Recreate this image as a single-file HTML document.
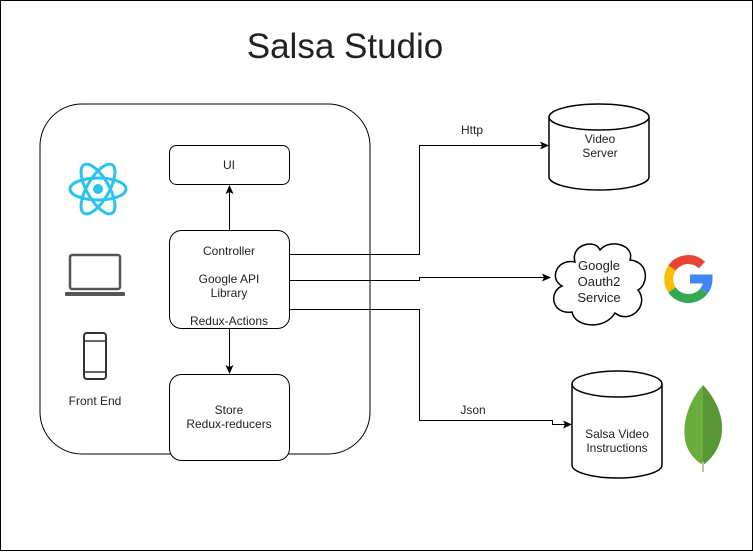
<!DOCTYPE html>
<html><head><style>
body{margin:0;background:#fff}
svg text{font-family:"Liberation Sans",Arial,sans-serif;fill:#222}
</style></head><body>
<svg width="753" height="551" viewBox="0 0 753 551" xmlns="http://www.w3.org/2000/svg">
<defs><marker id="a" markerWidth="10" markerHeight="10" refX="8" refY="4" orient="auto" markerUnits="userSpaceOnUse"><path d="M0,0 L9,4 L0,8 L2,4 Z" fill="#000"/></marker></defs>
<rect x="0.5" y="0.5" width="752" height="550" fill="#fff" stroke="#000"/>
<text x="345" y="58" font-size="35" text-anchor="middle" fill="#000">Salsa Studio</text>
<rect x="40" y="104" width="330" height="350" rx="42" fill="none" stroke="#000"/>
<g transform="translate(98,189)" stroke="#29c3ec" stroke-width="3" fill="none">
<ellipse rx="28" ry="11"/><ellipse rx="28" ry="11" transform="rotate(60)"/><ellipse rx="28" ry="11" transform="rotate(-60)"/>
<circle r="5" fill="#29c3ec" stroke="none"/></g>
<rect x="70" y="255" width="50" height="34" rx="2" fill="none" stroke="#555" stroke-width="2.5"/>
<rect x="65" y="292" width="60" height="4" rx="1" fill="#555"/>
<rect x="84" y="333" width="22" height="46" rx="3" fill="none" stroke="#333" stroke-width="2"/>
<line x1="85" y1="341" x2="105" y2="341" stroke="#333" stroke-width="1.5"/><line x1="85" y1="372" x2="105" y2="372" stroke="#333" stroke-width="1.5"/>
<text x="95" y="405" font-size="12" text-anchor="middle">Front End</text>
<rect x="169.5" y="145.5" width="120" height="39" rx="7" fill="#fff" stroke="#000"/>
<text x="229" y="169" font-size="12" text-anchor="middle">UI</text>
<rect x="169.5" y="230.5" width="120" height="98" rx="12" fill="#fff" stroke="#000"/>
<text x="229" y="255" font-size="12" text-anchor="middle">Controller</text>
<text x="229" y="283" font-size="12" text-anchor="middle">Google API</text>
<text x="229" y="297" font-size="12" text-anchor="middle">Library</text>
<text x="229" y="325" font-size="12" text-anchor="middle">Redux-Actions</text>
<rect x="169.5" y="374.5" width="120" height="86" rx="12" fill="#fff" stroke="#000"/>
<text x="229" y="414" font-size="12" text-anchor="middle">Store</text>
<text x="229" y="428" font-size="12" text-anchor="middle">Redux-reducers</text>
<line x1="229.5" y1="230" x2="229.5" y2="186" stroke="#000" marker-end="url(#a)"/>
<line x1="229.5" y1="329" x2="229.5" y2="373" stroke="#000" marker-end="url(#a)"/>
<polyline points="290,254.5 419.5,254.5 419.5,145.5 548,145.5" fill="none" stroke="#000" marker-end="url(#a)"/>
<polyline points="290,280.5 419.5,280.5 419.5,277.5 550,277.5" fill="none" stroke="#000" marker-end="url(#a)"/>
<polyline points="290,309.5 419.5,309.5 419.5,420.5 552.5,420.5 552.5,424.5 571,424.5" fill="none" stroke="#000" marker-end="url(#a)"/>
<text x="472" y="134" font-size="12" text-anchor="middle">Http</text>
<text x="473" y="414" font-size="12" text-anchor="middle">Json</text>
<g fill="#fff" stroke="#000" stroke-width="1.5">
<path d="M549,117 L549,177 A50,13 0 0 0 649,177 L649,117"/>
<ellipse cx="599" cy="117" rx="50" ry="13"/>
</g>
<text x="600" y="143" font-size="12" text-anchor="middle">Video</text>
<text x="600" y="157" font-size="12" text-anchor="middle">Server</text>
<path d="M575,262 C570,245 595,238 600,250 C610,238 635,245 630,260 C650,262 648,285 638,290 C650,305 630,325 615,313 C605,330 575,328 572,312 C552,315 548,292 562,286 C548,278 558,258 575,262 Z" fill="#fff" stroke="#000" stroke-width="1.5"/>
<text x="599" y="270" font-size="13" text-anchor="middle">Google</text>
<text x="599" y="286" font-size="13" text-anchor="middle">Oauth2</text>
<text x="599" y="302" font-size="13" text-anchor="middle">Service</text>
<g transform="translate(688,279)" fill="none" stroke-width="9">
<path d="M14,-14 A20,20 0 0 0 -16,-11" stroke="#ea4335"/>
<path d="M-16,-11 A20,20 0 0 0 -16,11" stroke="#fbbc05"/>
<path d="M-16,11 A20,20 0 0 0 16,12" stroke="#34a853"/>
<path d="M16,12 A20,20 0 0 0 20,0 L2,0" stroke="#4285f4"/>
</g>
<g fill="#fff" stroke="#000" stroke-width="1.5">
<path d="M572,384 L572,465 A45,13 0 0 0 662,465 L662,384"/>
<ellipse cx="617" cy="384" rx="45" ry="13"/>
</g>
<text x="617" y="438" font-size="12" text-anchor="middle">Salsa Video</text>
<text x="617" y="452" font-size="12" text-anchor="middle">Instructions</text>
<path d="M703,385 C690,400 682,420 685,440 C688,455 698,462 703,465 C710,460 722,448 722,428 C722,410 712,395 703,385 Z" fill="#6aad3d"/>
<path d="M703,385 C712,395 722,410 722,428 C722,448 710,460 703,465 Z" fill="#589636"/>
<line x1="703" y1="462" x2="703" y2="472" stroke="#b8c4a8" stroke-width="2"/>
</svg>
</body></html>
